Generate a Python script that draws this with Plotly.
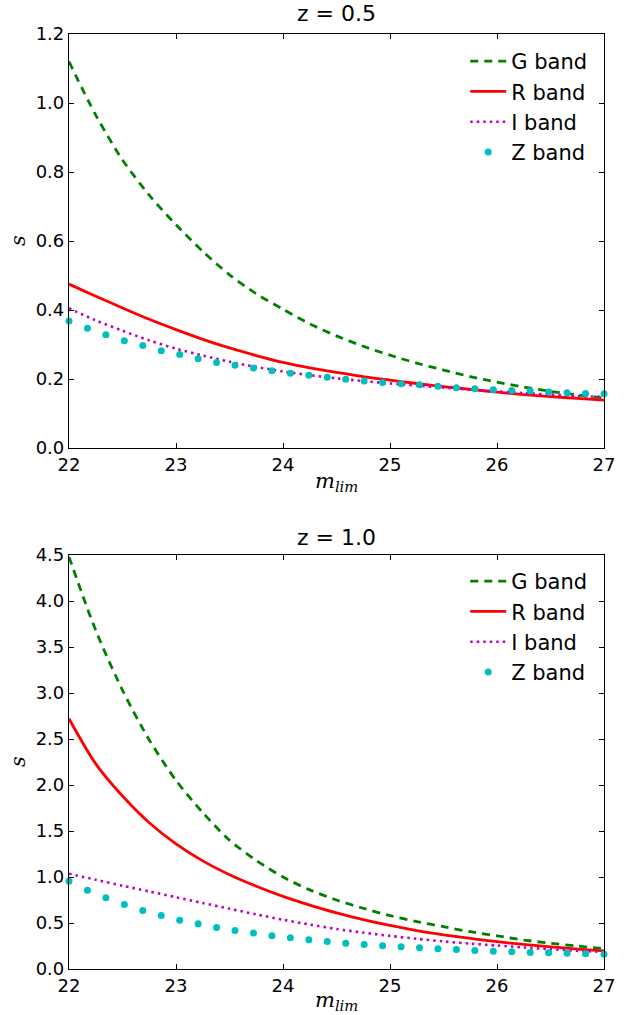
import plotly.graph_objects as go

# ---- data ----
x_line = [22.0, 22.25, 22.5, 22.75, 23.0, 23.25, 23.5, 23.75, 24.0, 24.25, 24.5,
          24.75, 25.0, 25.25, 25.5, 25.75, 26.0, 26.25, 26.5, 26.75, 27.0]
x_dots = [22 + 5 * i / 29 for i in range(30)]

# z = 0.5
g_top = [1.12, 0.965, 0.835, 0.733, 0.647, 0.570, 0.502, 0.447, 0.402, 0.360, 0.325,
         0.295, 0.269, 0.246, 0.226, 0.207, 0.191, 0.177, 0.164, 0.154, 0.145]
r_top = [0.475, 0.440, 0.406, 0.373, 0.343, 0.315, 0.290, 0.268, 0.248, 0.232, 0.219,
         0.207, 0.197, 0.187, 0.178, 0.170, 0.162, 0.155, 0.149, 0.144, 0.139]
i_top = [0.405, 0.370, 0.340, 0.312, 0.288, 0.268, 0.250, 0.235, 0.222, 0.211, 0.202,
         0.194, 0.187, 0.181, 0.175, 0.169, 0.164, 0.159, 0.155, 0.151, 0.148]
z_top = [0.368, 0.347, 0.328, 0.311, 0.297, 0.282, 0.271, 0.259, 0.248, 0.240,
         0.232, 0.224, 0.217, 0.211, 0.205, 0.199, 0.194, 0.190, 0.186, 0.183,
         0.179, 0.175, 0.172, 0.169, 0.167, 0.165, 0.162, 0.160, 0.158, 0.157]

# z = 1.0
g_bot = [4.48, 3.68, 3.03, 2.49, 2.05, 1.70, 1.40, 1.18, 1.00, 0.86, 0.75,
         0.66, 0.58, 0.515, 0.46, 0.405, 0.36, 0.315, 0.28, 0.25, 0.22]
r_bot = [2.72, 2.23, 1.88, 1.59, 1.36, 1.175, 1.025, 0.90, 0.79, 0.695, 0.61,
         0.537, 0.473, 0.418, 0.372, 0.332, 0.297, 0.267, 0.241, 0.217, 0.196]
i_bot = [1.036, 0.97, 0.905, 0.843, 0.78, 0.717, 0.655, 0.594, 0.535, 0.483, 0.435,
         0.395, 0.36, 0.328, 0.30, 0.276, 0.255, 0.234, 0.215, 0.199, 0.185]
z_bot = [0.955, 0.857, 0.775, 0.702, 0.637, 0.582, 0.531, 0.492, 0.452, 0.419,
         0.390, 0.361, 0.339, 0.318, 0.299, 0.281, 0.267, 0.252, 0.242, 0.231,
         0.220, 0.212, 0.201, 0.194, 0.187, 0.180, 0.176, 0.172, 0.165, 0.161]

x_ticks = [22, 23, 24, 25, 26, 27]
y_ticks_top = [0.0, 0.2, 0.4, 0.6, 0.8, 1.0, 1.2]
y_ticks_bot = [0.0, 0.5, 1.0, 1.5, 2.0, 2.5, 3.0, 3.5, 4.0, 4.5]
titles = ["z = 0.5", "z = 1.0"]
names = ["G band", "R band", "I band", "Z band"]

GREEN = "#008000"
RED = "#ff0000"
MAG = "#bf00bf"
CYAN = "#00bfbf"

fig = go.Figure()


def add_panel(g, r, i, z, xa, ya, leg):
    fig.add_trace(go.Scatter(x=x_line, y=g, mode="lines", name=names[0],
                             line=dict(color=GREEN, width=2.8, dash="8px,6px", shape="spline",
                                       smoothing=0.8),
                             xaxis=xa, yaxis=ya, legend=leg))
    fig.add_trace(go.Scatter(x=x_line, y=r, mode="lines", name=names[1],
                             line=dict(color=RED, width=2.8, shape="spline", smoothing=0.8),
                             xaxis=xa, yaxis=ya, legend=leg))
    fig.add_trace(go.Scatter(x=x_line, y=i, mode="lines", name=names[2],
                             line=dict(color=MAG, width=2.6, dash="2.5px,4px", shape="spline",
                                       smoothing=0.8),
                             xaxis=xa, yaxis=ya, legend=leg))
    fig.add_trace(go.Scatter(x=x_dots, y=z, mode="markers", name=names[3],
                             marker=dict(color=CYAN, size=7, line=dict(width=0)),
                             xaxis=xa, yaxis=ya, legend=leg, cliponaxis=False))


add_panel(g_top, r_top, i_top, z_top, "x", "y", "legend")
add_panel(g_bot, r_bot, i_bot, z_bot, "x2", "y2", "legend2")

top_dom = [521 / 935, 1.0]
bot_dom = [0.0, 414 / 935]

axis_common = dict(showgrid=False, zeroline=False, showline=True, linecolor="black",
                   linewidth=1.2, mirror="ticks", ticks="inside", ticklen=5,
                   tickwidth=1, tickcolor="black",
                   tickfont=dict(family="DejaVu Sans", size=18, color="black"))

leg_font = dict(family="DejaVu Sans", size=21, color="black")
fig.update_layout(
    width=627, height=1015,
    margin=dict(l=69, r=23, t=34, b=46),
    paper_bgcolor="white", plot_bgcolor="white",
    xaxis=dict(domain=[0, 1], anchor="y", range=[22, 27], tickvals=x_ticks, **axis_common),
    yaxis=dict(domain=top_dom, anchor="x", range=[0, 1.2], tickvals=y_ticks_top,
               tickformat=".1f", **axis_common),
    xaxis2=dict(domain=[0, 1], anchor="y2", range=[22, 27], tickvals=x_ticks, **axis_common),
    yaxis2=dict(domain=bot_dom, anchor="x2", range=[0, 4.5], tickvals=y_ticks_bot,
                tickformat=".1f", **axis_common),
    legend=dict(x=0.978, y=(969 - 41) / 935, xanchor="right", yanchor="top",
                bgcolor="rgba(0,0,0,0)", font=leg_font, tracegroupgap=0, itemwidth=36),
    legend2=dict(x=0.978, y=(969 - 561) / 935, xanchor="right", yanchor="top",
                 bgcolor="rgba(0,0,0,0)", font=leg_font, tracegroupgap=0, itemwidth=36),
    showlegend=True,
)

annos = []
for t, yp in zip(titles, [(969 - 14) / 935, (969 - 537) / 935]):
    annos.append(dict(text=t, x=0.5, y=yp, xref="paper", yref="paper", showarrow=False,
                      xanchor="center", yanchor="middle",
                      font=dict(family="DejaVu Sans", size=22, color="black")))
for yp in [(969 - 482) / 935, (969 - 1001) / 935]:
    annos.append(dict(text="<i>m</i><sub><i>lim</i></sub>", x=0.5, y=yp, xref="paper", yref="paper",
                      showarrow=False, xanchor="center", yanchor="middle",
                      font=dict(family="DejaVu Serif", size=21, color="black")))
for yp in [(969 - 241) / 935, (969 - 762) / 935]:
    annos.append(dict(text="<i>s</i>", x=(18 - 69) / 535, y=yp, xref="paper", yref="paper",
                      showarrow=False, xanchor="center", yanchor="middle", textangle=-90,
                      font=dict(family="DejaVu Serif", size=21, color="black")))
fig.update_layout(annotations=annos)

fig.write_html("out.html")
